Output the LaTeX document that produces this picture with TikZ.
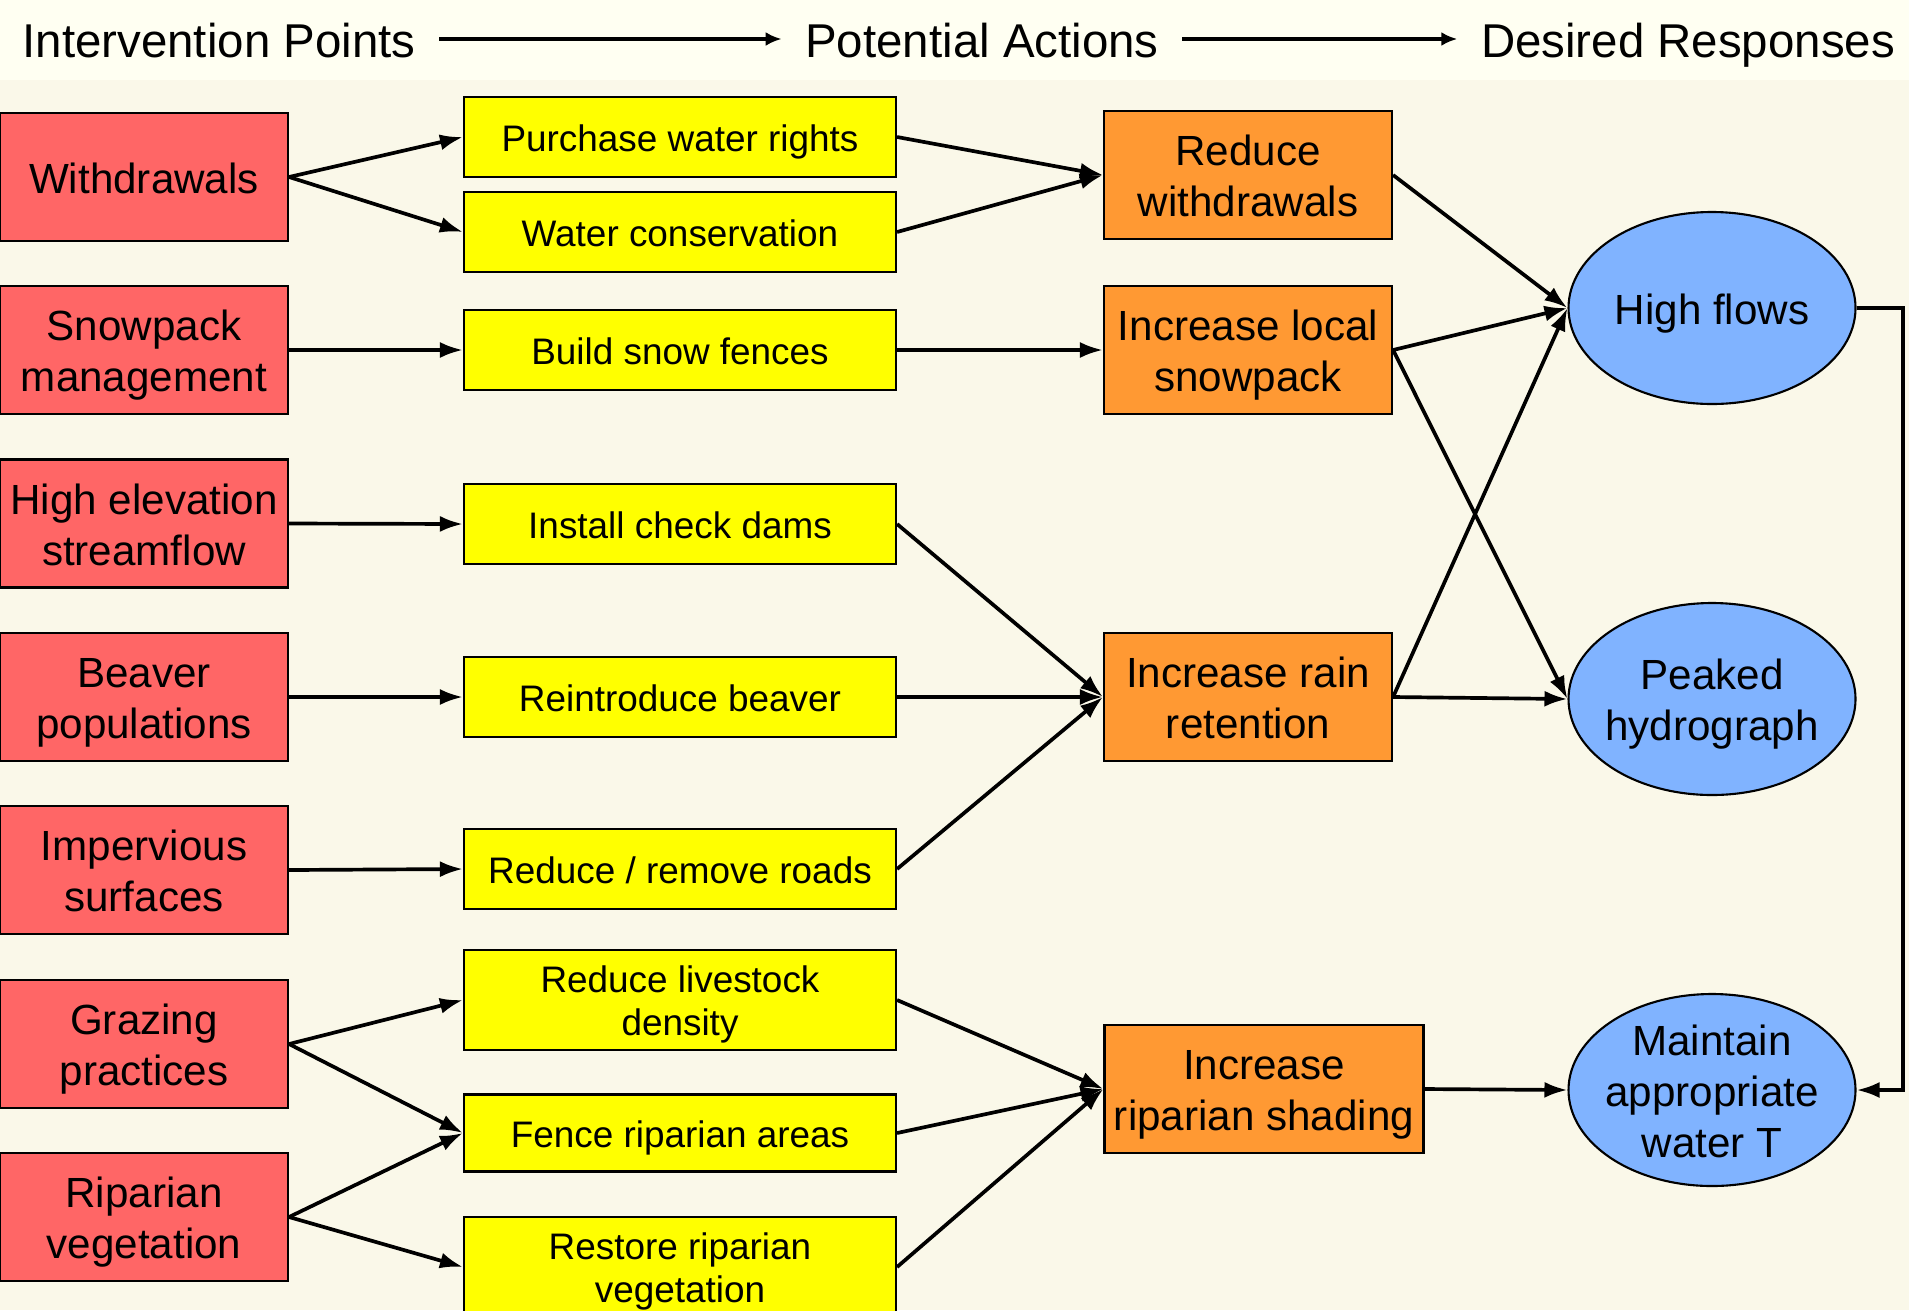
\documentclass[tikz,border=0pt]{standalone}
\usepackage{fontspec}
\setmainfont{Liberation Sans}
\usetikzlibrary{arrows.meta,shapes.geometric}

\definecolor{bgmain}{RGB}{250,248,233}
\definecolor{bghead}{RGB}{255,255,242}
\definecolor{redbox}{RGB}{255,102,102}
\definecolor{yelbox}{RGB}{255,255,0}
\definecolor{orabox}{RGB}{255,153,51}
\definecolor{bluebox}{RGB}{128,179,255}

\begin{document}
\begin{tikzpicture}[
		boxtext/.style={execute at begin node={\rule{0pt}{#1}}, execute at end node={\rule[-.212em]{0pt}{.212em}}},
		boxtext/.default=.99em,
		multi/.style={boxtext=#1},
		multi/.default=2.2em,
		ipoint/.style={boxtext, draw, rectangle, fill=redbox, line width=.6pt, minimum width=2.88cm, minimum height=1.28cm, align=center, inner sep=1pt, font=\fontsize{12}{14.5}\selectfont},
		action/.style={boxtext, draw, rectangle, fill=yelbox, line width=.6pt, minimum width=4.32cm, minimum height=.8cm, align=center, inner sep=1pt, font=\fontsize{10.5}{12.4}\selectfont},
		effect/.style={boxtext, draw, rectangle, fill=orabox, line width=.6pt, minimum width=2.88cm, minimum height=1.28cm, align=center, inner sep=1pt, font=\fontsize{12}{14.5}\selectfont},
		response/.style={boxtext, draw, ellipse, fill=bluebox, line width=.6pt, minimum width=2.87cm, minimum height=1.92cm, align=center, inner xsep=-.1cm, inner ysep=-.3cm, font=\fontsize{12}{14.5}\selectfont},
		header/.style={boxtext, inner sep=.23cm, font=\fontsize{13.5}{16}\selectfont},
		link/.style={-{Latex[length=2.3mm,width=1.6mm]}, line width=1.05pt},
		headlink/.style={-{Latex[length=1.6mm,width=1.4mm]}, line width=.9pt}
	]
		% Background and header band
		\useasboundingbox (0,0) rectangle (19.09,-13.10);
		\fill[bgmain] (0,0) rectangle (19.09,-13.10);
		\fill[bghead] (0,0) rectangle (19.09,-.80);
		
		% Column headers
		\node[header] (hip) at (2.19,-.39) {Intervention Points};
		\node[header] (hpa) at (9.82,-.39) {Potential Actions};
		\node[header] (hdr) at (16.88,-.39) {Desired Responses};
		\draw[headlink] (hip) -- (hpa);
		\draw[headlink] (hpa) -- (hdr);
		
		% Intervention points
		\node[ipoint] (wd) at (1.44,-1.77) {Withdrawals};
		\node[ipoint, multi] (snowm) at (1.44,-3.50) {Snowpack\\management};
		\node[ipoint, multi] (hes) at (1.44,-5.235) {High elevation\\streamflow};
		\node[ipoint, multi] (beav) at (1.44,-6.97) {Beaver\\populations};
		\node[ipoint, multi] (imp) at (1.44,-8.70) {Impervious\\surfaces};
		\node[ipoint, multi] (graz) at (1.44,-10.44) {Grazing\\practices};
		\node[ipoint, multi] (ripv) at (1.44,-12.17) {Riparian\\vegetation};
		
		% Potential actions
		\node[action] (pwr) at (6.80,-1.37) {Purchase water rights};
		\node[action] (wcons) at (6.80,-2.32) {Water conservation};
		\node[action] (snowf) at (6.80,-3.50) {Build snow fences};
		\node[action] (dams) at (6.80,-5.24) {Install check dams};
		\node[action] (rbeav) at (6.80,-6.97) {Reintroduce beaver};
		\node[action] (roads) at (6.80,-8.69) {Reduce / remove roads};
		\node[action, multi=2.14em, minimum height=1cm] (lstock) at (6.80,-10.00) {Reduce livestock\\density};
		\node[action, minimum height=.77cm] (frip) at (6.80,-11.33) {Fence riparian areas};
		\node[action, multi=2.14em, minimum height=1cm] (rrip) at (6.80,-12.67) {Restore riparian\\vegetation};
		
		% Intermediate effects
		\node[effect, multi] (rwd) at (12.48,-1.75) {Reduce\\withdrawals};
		\node[effect, multi] (ils) at (12.48,-3.50) {Increase local\\snowpack};
		\node[effect, multi] (rrt) at (12.48,-6.97) {Increase rain\\retention};
		\node[effect, multi, minimum width=3.19cm] (shade) at (12.64,-10.89) {Increase\\riparian shading};
		
		% Desired responses
		\node[response] (hflow) at (17.12,-3.08) {High flows};
		\node[response, multi=2.16em] (peak) at (17.12,-6.99) {Peaked\\hydrograph};
		\node[response, multi=3.4em] (maint) at (17.12,-10.90) {Maintain\\appropriate\\water T};
		
		% Connectors
		\foreach \a/\b in {wd/pwr, wd/wcons, snowm/snowf, hes/dams, beav/rbeav, imp/roads,
				graz/lstock, graz/frip, ripv/frip, ripv/rrip,
				pwr/rwd, wcons/rwd, snowf/ils, dams/rrt, rbeav/rrt, roads/rrt,
				lstock/shade, frip/shade, rrip/shade,
				rwd/hflow, ils/hflow, ils/peak, rrt/hflow, rrt/peak, shade/maint} {
			\draw[link] (\a.east) -- (\b.west);
		}
		
		% Feedback from high flows to water temperature
		\coordinate (rbend) at (19.03,-3.08);
		\draw[link] (hflow.east) -- (rbend) |- (maint.east);
	\end{tikzpicture}
\end{document}
